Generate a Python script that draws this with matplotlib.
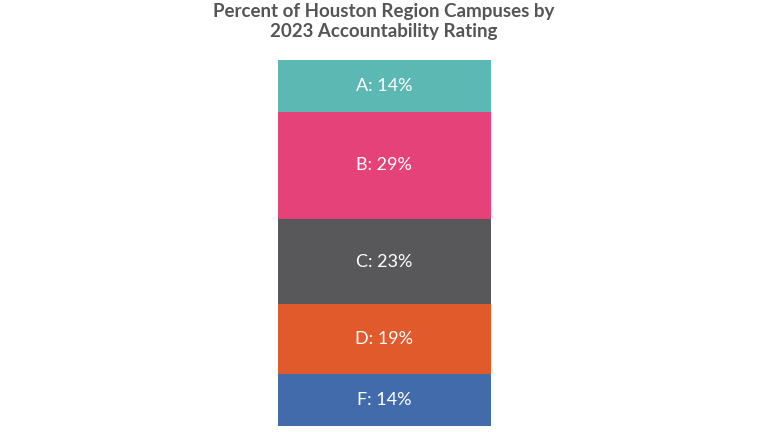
import matplotlib
import matplotlib.pyplot as plt

matplotlib.use('Agg')

# 评级数据
ratings = ["A", "B", "C", "D", "F"]
percents = [14, 29, 23, 19, 14]
colors = ["#5BB8B3", "#E5427A", "#58585A", "#E05A2B", "#416BAA"]

plt.rcParams["font.family"] = ["Lato", "DejaVu Sans"]

fig = plt.figure(figsize=(7.68, 4.32), dpi=100)
ax = fig.add_axes([0.362, 0.0139, 0.277, 0.847])

total = sum(percents)
top = total
for rating, pct, color in zip(ratings, percents, colors):
    bottom = top - pct
    ax.bar(0, pct, bottom=bottom, width=1.0, color=color, linewidth=0)
    ax.text(0, bottom + pct / 2, f"{rating}: {pct}%", ha="center", va="center",
            color="white", fontsize=13)
    top = bottom

ax.set_xlim(-0.5, 0.5)
ax.set_ylim(0, total)
ax.axis('off')

fig.text(0.5, 0.992, "Percent of Houston Region Campuses by\n2023 Accountability Rating",
         ha="center", va="top", fontsize=13.5, color="#555555", fontweight="bold",
         linespacing=1.2)

plt.savefig("out.png", dpi=100)
